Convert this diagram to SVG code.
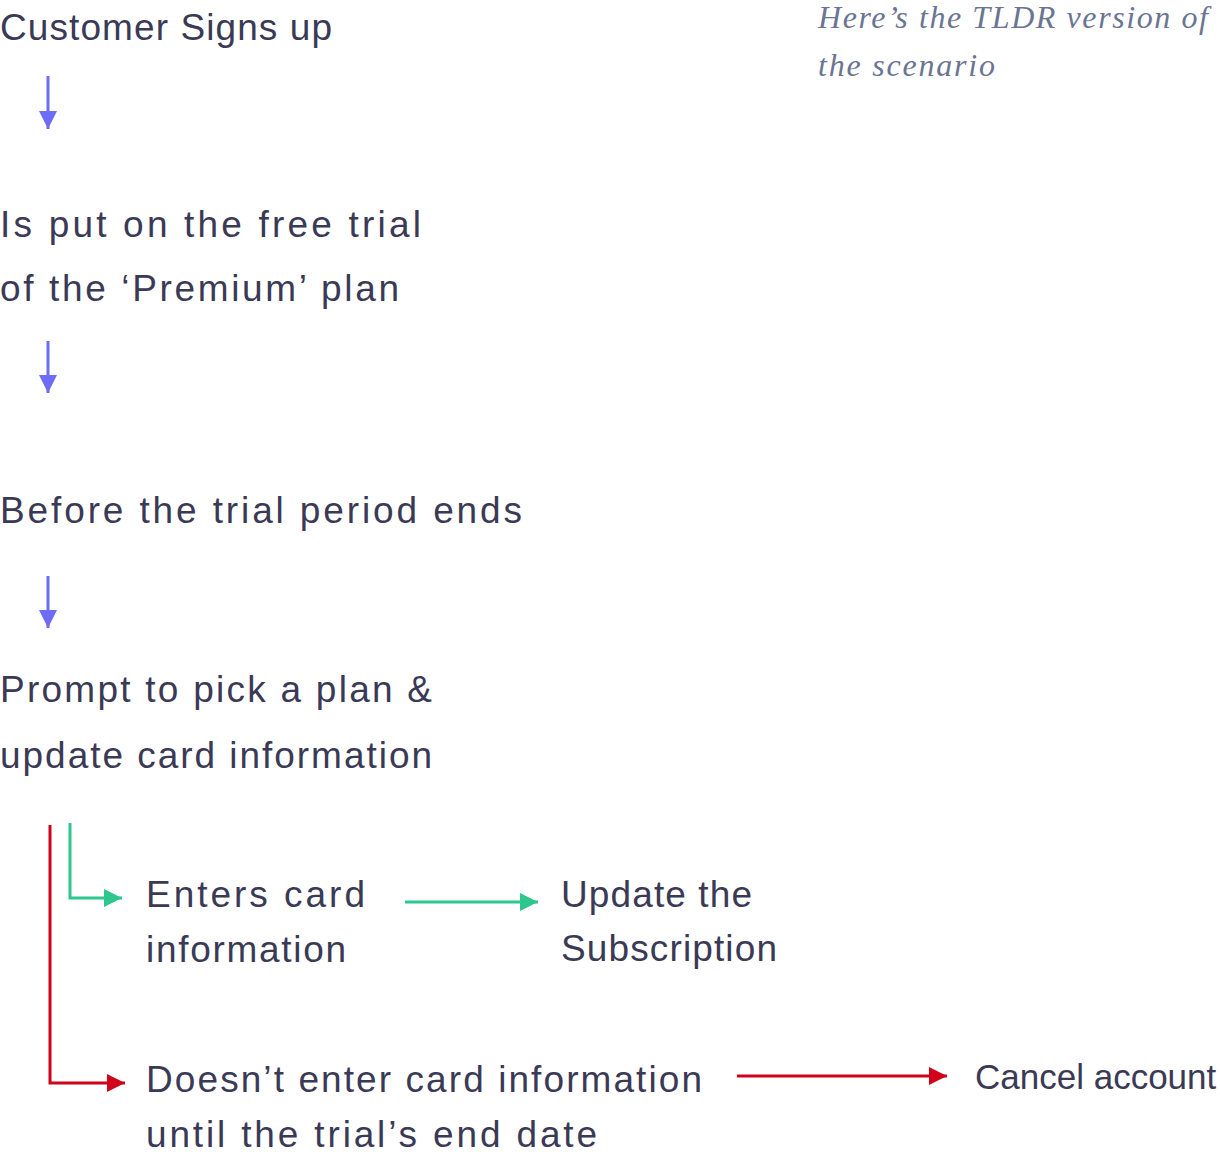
<svg xmlns="http://www.w3.org/2000/svg" width="1220" height="1154" viewBox="0 0 1220 1154">
<style>
.t{font-family:"Liberation Sans","DejaVu Sans",sans-serif;font-size:37px;fill:#3b3a56}
.n{font-family:"Liberation Serif","DejaVu Serif",serif;font-style:italic;font-size:32px;fill:#6b7593}
.b{stroke:#6c6cf6;stroke-width:3;fill:none}
.g{stroke:#2dc68d;stroke-width:3;fill:none}
.r{stroke:#d0021b;stroke-width:3;fill:none}
</style>
<defs>
<marker id="mb" markerUnits="userSpaceOnUse" markerWidth="18" markerHeight="18" refX="18" refY="9" orient="auto"><path d="M0,0 L18,9 L0,18 z" fill="#6c6cf6"/></marker>
<marker id="mg" markerUnits="userSpaceOnUse" markerWidth="18" markerHeight="18" refX="18" refY="9" orient="auto"><path d="M0,0 L18,9 L0,18 z" fill="#2dc68d"/></marker>
<marker id="mr" markerUnits="userSpaceOnUse" markerWidth="18" markerHeight="18" refX="18" refY="9" orient="auto"><path d="M0,0 L18,9 L0,18 z" fill="#d0021b"/></marker>
</defs>
<rect width="1220" height="1154" fill="#ffffff"/>
<g id="note">
<text class="n" x="818" y="28" textLength="390">Here’s the TLDR version of</text>
<text class="n" x="818" y="76" textLength="177">the scenario</text>
</g>
<g id="signup"><text class="t" x="0" y="40" textLength="332">Customer Signs up</text></g>
<g id="trial">
<text class="t" x="0" y="237" textLength="421">Is put on the free trial</text>
<text class="t" x="0" y="301" textLength="399">of the ‘Premium’ plan</text>
</g>
<g id="before"><text class="t" x="0" y="523" textLength="522">Before the trial period ends</text></g>
<g id="prompt">
<text class="t" x="0" y="702" textLength="432">Prompt to pick a plan &amp;</text>
<text class="t" x="0" y="768" textLength="432">update card information</text>
</g>
<g id="enters">
<text class="t" x="146" y="907" textLength="219">Enters card</text>
<text class="t" x="146" y="962" textLength="200">information</text>
</g>
<g id="update">
<text class="t" x="561" y="907" textLength="191">Update the</text>
<text class="t" x="561" y="961" textLength="216">Subscription</text>
</g>
<g id="doesnt">
<text class="t" x="146" y="1092" textLength="556">Doesn’t enter card information</text>
<text class="t" x="146" y="1147" textLength="451">until the trial’s end date</text>
</g>
<g id="cancel"><text class="t" x="975" y="1089" style="font-size:35px">Cancel account</text></g>
<g id="connectors">
<path class="b" d="M48,76 V129" marker-end="url(#mb)"/>
<path class="b" d="M48,341 V393" marker-end="url(#mb)"/>
<path class="b" d="M48,576 V628" marker-end="url(#mb)"/>
<path class="g" d="M70,823 V898 H122" marker-end="url(#mg)"/>
<path class="g" d="M405,902 H538" marker-end="url(#mg)"/>
<path class="r" d="M50,825 V1083 H125" marker-end="url(#mr)"/>
<path class="r" d="M737,1076 H947" marker-end="url(#mr)"/>
</g>
</svg>
